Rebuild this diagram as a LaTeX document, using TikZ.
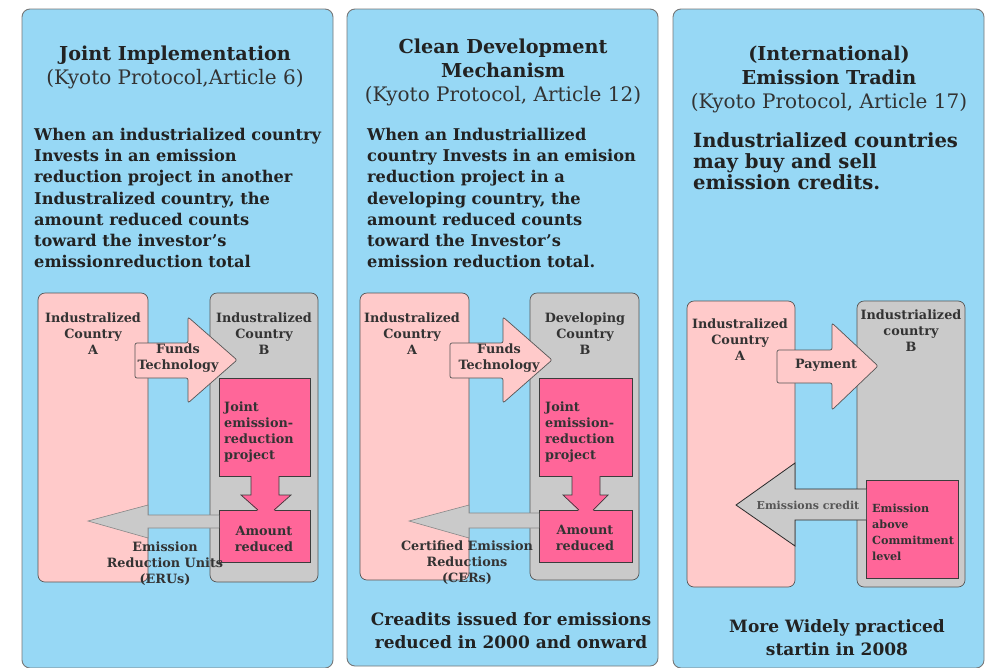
\documentclass[tikz,border=0pt]{standalone}
\usepackage{fontspec}
\setmainfont{DejaVu Serif}
\definecolor{skyb}{HTML}{97D8F5}
\definecolor{pinkA}{HTML}{FFCACA}
\definecolor{grayB}{HTML}{CACACA}
\definecolor{magp}{HTML}{FF6699}
\definecolor{edge}{HTML}{555555}
\definecolor{ink}{HTML}{222222}
\definecolor{subink}{HTML}{333333}
\begin{document}
\begin{tikzpicture}[x=1pt,y=-1pt,
  panel/.style={draw=edge!80, fill=skyb, rounded corners=8pt, line width=0.9pt},
  ctyA/.style={draw=edge, fill=pinkA, rounded corners=7pt, line width=0.7pt},
  ctyB/.style={draw=edge, fill=grayB, rounded corners=7pt, line width=0.7pt},
  proj/.style={draw=edge!70!black, fill=magp, line width=0.7pt},
  farrow/.style={draw=edge, fill=pinkA, rounded corners=2pt, line width=0.7pt},
  garrow/.style={draw=edge!70, fill=grayB, line width=0.6pt},
  title/.style={inner sep=0pt, align=center, text=ink, font=\fontsize{19.2}{24}\selectfont\bfseries},
  subt/.style={inner sep=0pt, align=center, text=subink, font=\fontsize{20}{24}\selectfont},
  body/.style={inner sep=0pt, anchor=north west, align=left, text=ink, font=\fontsize{16.2}{21.2}\selectfont\bfseries},
  lbl/.style={inner sep=0pt, align=center, text=subink, font=\fontsize{12.8}{16}\selectfont\bfseries},
  lbll/.style={inner sep=0pt, align=left, text=subink, font=\fontsize{12.8}{16}\selectfont\bfseries},
  foot/.style={inner sep=0pt, align=center, text=ink, font=\fontsize{17}{23}\selectfont\bfseries}
]
\useasboundingbox (0,0) rectangle (987,667);
\fill[white] (0,0) rectangle (987,667);

% ---------------- panels
\draw[panel] (22,9) rectangle (333,668);
\draw[panel] (347,9) rectangle (658,666);
\draw[panel] (673,9) rectangle (984,668);

% ---------------- panel 1
\node[title] (t1) at (175,55) {Joint Implementation};
\node[subt] (s1) at (175,79) {(Kyoto Protocol,Article 6)};
\node[body] (b1) at (34,128) {When an industrialized country\\Invests in an emission\\reduction project in another\\Industralized country, the\\amount reduced counts\\toward the investor’s\\emissionreduction total};

\draw[ctyA] (38,293) rectangle (148,582);
\draw[ctyB] (210,293) rectangle (318,582);
\node[lbl] (a1) at (93,334) {Industralized\\Country\\A};
\node[lbl] (bb1) at (264,334) {Industralized\\Country\\B};
\draw[farrow] (135,343) -- (188,343) -- (188,317) -- (237,360) -- (188,403) -- (188,378) -- (135,378) -- cycle;
\node[lbl] (f1) at (178,358) {Funds\\Technology};
\draw[proj] (219,378) rectangle (310,476);
\node[lbll, anchor=west] (j1) at (224,432) {Joint\\emission-\\reduction\\project};
\draw[proj] (219,510) rectangle (310,562);
\fill[magp] (251,475) -- (251,495) -- (241,495) -- (258,511) -- (274,511) -- (291,495) -- (279,495) -- (279,475) -- cycle;
\draw[edge!70!black, line width=0.7pt] (251,476) -- (251,495) -- (241,495) -- (258,510);
\draw[edge!70!black, line width=0.7pt] (279,476) -- (279,495) -- (291,495) -- (274,510);
\node[lbl] (r1) at (264,539) {Amount\\reduced};
\draw[garrow] (219,515) -- (148,515) -- (148,505) -- (88,521) -- (148,538) -- (148,528) -- (219,528);
\node[lbl] (e1) at (165,564) {Emission\\Reduction Units\\(ERUs)};

% ---------------- panel 2
\node[title] (t2) at (503,58) {Clean Development\\Mechanism};
\node[subt] (s2) at (503,96) {(Kyoto Protocol, Article 12)};
\node[body] (b2) at (367,128) {When an Industriallized\\country Invests in an emision\\reduction project in a\\developing country, the\\amount reduced counts\\toward the Investor’s\\emission reduction total.};

\draw[ctyA] (360,293) rectangle (469,580);
\draw[ctyB] (530,293) rectangle (639,580);
\node[lbl] (a2) at (412,334) {Industralized\\Country\\A};
\node[lbl] (bb2) at (585,334) {Developing\\Country\\B};
\draw[farrow] (450,343) -- (503,343) -- (503,317) -- (552,360) -- (503,403) -- (503,378) -- (450,378) -- cycle;
\node[lbl] (f2) at (499,358) {Funds\\Technology};
\draw[proj] (539,378) rectangle (632,476);
\node[lbll, anchor=west] (j2) at (545,432) {Joint\\emission-\\reduction\\project};
\draw[proj] (539,510) rectangle (632,562);
\fill[magp] (572,475) -- (572,495) -- (563,495) -- (579,511) -- (593,511) -- (608,495) -- (600,495) -- (600,475) -- cycle;
\draw[edge!70!black, line width=0.7pt] (572,476) -- (572,495) -- (563,495) -- (579,510);
\draw[edge!70!black, line width=0.7pt] (600,476) -- (600,495) -- (608,495) -- (593,510);
\node[lbl] (r2) at (585,538) {Amount\\reduced};
\draw[garrow] (539,513) -- (469,513) -- (469,505) -- (409,521) -- (469,538) -- (469,528) -- (539,528);
\node[lbl] (e2) at (467,563) {Certified Emission\\Reductions\\(CERs)};
\node[foot] (c2) at (511,631) {Creadits issued for emissions\\reduced in 2000 and onward};

% ---------------- panel 3
\node[title] (t3) at (829,65) {(International)\\Emission Tradin};
\node[subt] (s3) at (829,103) {(Kyoto Protocol, Article 17)};
\node[inner sep=0pt, anchor=north west, align=left, text=ink, font=\fontsize{19.6}{21}\selectfont\bfseries] (b3) at (693,132) {Industrialized countries\\may buy and sell\\emission credits.};

\draw[ctyA] (687,301) rectangle (795,587);
\draw[ctyB] (857,301) rectangle (965,587);
\node[lbl] (a3) at (740,340) {Industralized\\Country\\A};
\node[lbl] (bb3) at (911,331) {Industrialized\\country\\B};
\draw[farrow] (777,350) -- (832,350) -- (832,323) -- (878,366) -- (832,410) -- (832,383) -- (777,383) -- cycle;
\node[lbl] (p3) at (826,365) {Payment};
\draw[proj] (866,480) rectangle (958,578);
\node[lbll, anchor=west, font=\fontsize{11.2}{16}\selectfont\bfseries] (m3) at (872,532) {Emission\\above\\Commitment\\level};
\draw[draw=edge!50!black, fill=grayB, line width=0.8pt] (866,489) -- (795,489) -- (795,463) -- (736,505) -- (795,546) -- (795,520) -- (866,520);
\node[lbl, font=\fontsize{11}{12}\selectfont\bfseries, text=edge] (ec3) at (808,505) {Emissions credit};
\node[foot] (c3) at (837,638) {More Widely practiced\\startin in 2008};
\end{tikzpicture}
\end{document}
